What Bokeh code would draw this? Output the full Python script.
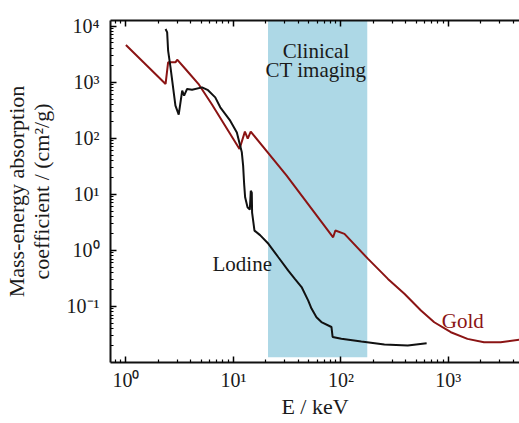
from bokeh.plotting import figure
from bokeh.models import FixedTicker, LogAxis, Range1d, Label
from bokeh.embed import file_html
from bokeh.resources import INLINE

# ---- data ----
gold_energy = [1.0, 2.34, 2.47, 2.89, 3.0, 3.58, 4.79, 6.32, 11.4, 12.8, 13.6, 14.5,
               31.3, 84.7, 88.9, 108, 179, 274, 390, 556, 739, 1055, 1506, 2145, 3063, 4600]
gold_mu = [4600, 929, 2255, 2255, 2518, 1718, 902, 400, 64.4, 131, 98, 131,
           21.5, 1.71, 2.26, 1.97, 0.704, 0.310, 0.168, 0.0845, 0.0522, 0.0347, 0.0264,
           0.0230, 0.0230, 0.0255]

iodine_energy = [2.34, 2.42, 2.47, 2.60, 2.89, 3.10, 3.34, 3.48, 3.71, 4.13, 5.11, 5.81,
                 6.78, 7.55, 9.34, 10.77, 11.56, 11.98, 12.32, 12.59, 12.86, 13.54, 14.22,
                 14.52, 14.83, 14.93, 15.71, 17.71, 21.18, 26.2, 32.4, 37.3, 43.1, 49.7,
                 53.3, 59.3, 65.9, 81.7, 83.8, 101, 155, 254, 419, 628]
iodine_mu = [8870, 7730, 3640, 1836, 381, 264, 705, 574, 757, 735, 807, 720,
             535, 356, 206, 127, 73.8, 56.1, 32.5, 15.3, 8.84, 5.86, 5.33,
             11.6, 10.7, 4.72, 2.25, 1.87, 1.31, 0.753, 0.436, 0.310, 0.222, 0.127,
             0.0918, 0.0642, 0.0527, 0.0430, 0.0285, 0.0265, 0.0237, 0.0210, 0.0201, 0.0221]

ct_band_energy = [21.0, 176.0]
ct_band_mu = [0.0124, 1.0e5]

x_tick_values = [1, 10, 100, 1000]
x_tick_labels = ["10\u2070", "10\u00b9", "10\u00b2", "10\u00b3"]
y_tick_values = [0.1, 1, 10, 100, 1000, 10000]
y_tick_labels = ["10\u207b\u00b9", "10\u2070", "10\u00b9", "10\u00b2", "10\u00b3", "10\u2074"]

FONT = "Liberation Serif"
GOLD = "#8b1414"
TEXT = "#1a1a1a"

x_minor = [m * 10.0 ** k for k in range(-1, 4) for m in range(2, 10)]
y_minor = [m * 10.0 ** k for k in range(-2, 5) for m in range(2, 10)]

p = figure(width=519, height=423, x_axis_type="log", y_axis_type="log",
           x_range=Range1d(0.719, 4590), y_range=Range1d(0.01, 10 ** 4.1),
           output_backend="svg", toolbar_location=None,
           min_border_left=108, min_border_right=0, min_border_top=20,
           min_border_bottom=61)
p.outline_line_color = None
p.xgrid.visible = False
p.ygrid.visible = False
p.background_fill_color = "white"
p.border_fill_color = "white"

bottom = p.below[0]
left = p.left[0]

# shaded clinical CT band
p.quad(left=[ct_band_energy[0]], right=[ct_band_energy[1]],
       bottom=[ct_band_mu[0]], top=[ct_band_mu[1]],
       fill_color="#add8e6", line_color=None)

p.line(gold_energy, gold_mu, line_color=GOLD, line_width=2)
p.line(iodine_energy, iodine_mu, line_color="#111111", line_width=2)

xt = FixedTicker(ticks=x_tick_values, minor_ticks=x_minor)
yt = FixedTicker(ticks=y_tick_values, minor_ticks=y_minor)
bottom.ticker = xt
left.ticker = yt
bottom.major_label_overrides = {v: l for v, l in zip(x_tick_values, x_tick_labels)}
left.major_label_overrides = {v: l for v, l in zip(y_tick_values, y_tick_labels)}

top = LogAxis(ticker=xt, major_label_text_font_size="0px", major_label_standoff=0,
              major_label_overrides={v: "" for v in x_tick_values})
p.add_layout(top, "above")

for ax in [bottom, left, top]:
    ax.axis_line_width = 2
    ax.axis_line_color = "#111111"
    ax.major_tick_in = 6
    ax.major_tick_out = 0
    ax.minor_tick_in = 3
    ax.minor_tick_out = 0
    ax.major_tick_line_width = 1.5
    ax.minor_tick_line_width = 1.2
    ax.major_label_text_font = FONT
    ax.major_label_text_color = TEXT

bottom.major_label_text_font_size = "20px"
left.major_label_text_font_size = "20px"
bottom.major_label_standoff = 6
left.major_label_standoff = 11

bottom.axis_label = "E / keV"
left.axis_label = "Mass-energy absorption\ncoefficient / (cm\u00b2/g)"
for ax in [bottom, left]:
    ax.axis_label_text_font = FONT
    ax.axis_label_text_font_size = "22px"
    ax.axis_label_text_font_style = "normal"
    ax.axis_label_text_color = TEXT
    ax.axis_label_text_line_height = 1.0
bottom.axis_label_standoff = 0
left.axis_label_standoff = 10

for x, y, t, c in [(58.7, 3640, "Clinical", TEXT), (58.7, 1671, "CT imaging", TEXT),
                   (12.1, 0.574, "Lodine", TEXT), (1362, 0.0561, "Gold", GOLD)]:
    p.add_layout(Label(x=x, y=y, text=t, text_align="center",
                       text_baseline="alphabetic", text_font=FONT,
                       text_font_size="21px", text_color=c))

open("out.html", "w").write(file_html(p, INLINE))
